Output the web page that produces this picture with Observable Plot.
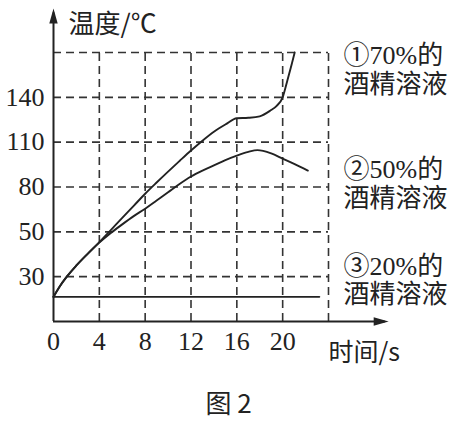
<!DOCTYPE html>
<html><head><meta charset="utf-8">
<script src="https://cdn.jsdelivr.net/npm/d3@7"></script>
<script src="https://cdn.jsdelivr.net/npm/@observablehq/plot@0.6"></script>
<style>body{margin:0;background:#fff}</style>
</head><body><div id="chart"></div>
<script>
// y axis is drawn with evenly spaced levels (piecewise scale)
const tempLevels = [10, 30, 50, 80, 110, 140, 170];
const yTickLabels = [30, 50, 80, 110, 140];
const xTickLabels = [0, 4, 8, 12, 16, 20];
const xGrid = [4, 8, 12, 16, 20, 24];

// ① 70% alcohol solution
const time70 = [0, 0.5, 1.16, 2, 3, 4, 5, 6, 7, 8, 9, 10, 11, 12, 13, 14, 15, 16, 17, 18, 18.9, 19.5, 20, 20.4, 20.8, 21.05];
const temp70 = [21, 25.3, 30, 35, 40.3, 45.4, 51.2, 59.3, 67.4, 75.5, 83, 90.3, 97.4, 104.4, 111, 117, 121.8, 126, 126.3, 127.3, 131, 134.5, 140, 151, 162.4, 170];
// ② 50% alcohol solution
const time50 = [0, 0.5, 1.16, 2, 3, 4, 5, 6, 7, 8, 9, 10, 11, 12, 13, 14, 15, 16, 17, 17.8, 19, 20, 21, 22.2];
const temp50 = [21, 25.3, 30, 35, 40.3, 45.2, 49.5, 55, 60.5, 65.5, 71, 76.5, 82, 87, 91, 94.5, 98, 101, 103.5, 104.7, 102.5, 99, 95.5, 91];
// ③ 20% alcohol solution
const time20 = [0, 23.2];
const temp20 = [21, 21];

const labels = ["①70%的\n酒精溶液", "②50%的\n酒精溶液", "③20%的\n酒精溶液"];
const yTitle = "温度/℃";
const xTitle = "时间/s";
const figTitle = "图 2";

const W = 454, H = 421;
const mL = 53, mR = 126, mT = 52, mB = 100;
// temperature -> evenly spaced level position (piecewise linear, extrapolates past the ends)
const level = d3.scaleLinear().domain(tempLevels).range(d3.range(tempLevels.length));
const yMin = tempLevels[0];
const yMax = tempLevels[tempLevels.length - 1];
const axisTipY = 199.4, axisTipX = 29.25;

const toRows = (ts, vs) => ts.map((t, i) => ({t, v: vs[i]}));
const s70 = toRows(time70, temp70), s50 = toRows(time50, temp50), s20 = toRows(time20, temp20);

const ink = "#222";
const dash = {stroke: "#333", strokeWidth: 1.6, strokeDasharray: "8,5"};
const arrowHead = {draw(ctx) { ctx.moveTo(0, 0); ctx.lineTo(-4.2, 15); ctx.lineTo(4.2, 15); ctx.closePath(); }};
const font = '"Liberation Serif","Noto Sans CJK SC",serif';
const cjk = '"Noto Sans CJK SC","Liberation Serif",sans-serif';

const plot = Plot.plot({
  width: W, height: H,
  marginLeft: mL, marginRight: mR, marginTop: mT, marginBottom: mB,
  x: {domain: [0, 24], axis: null},
  y: {transform: level, domain: [0, tempLevels.length - 1], axis: null},
  style: {fontFamily: font, fontSize: "26px", background: "#fff", color: ink},
  marks: [
    Plot.ruleY(tempLevels.slice(1), {x1: 0, x2: 24, ...dash}),
    Plot.ruleX(xGrid, {y1: yMin, y2: yMax, ...dash}),
    Plot.ruleX([0], {y1: yMin, y2: axisTipY - 3, stroke: ink, strokeWidth: 2}),
    Plot.ruleY([yMin], {x1: 0, x2: axisTipX - 0.3, stroke: ink, strokeWidth: 2}),
    Plot.dot([{t: 0, v: axisTipY, r: 0}], {x: "t", y: "v", symbol: arrowHead, fill: ink, stroke: null}),
    Plot.dot([{t: axisTipX, v: yMin, r: 90}], {x: "t", y: "v", symbol: arrowHead, rotate: "r", fill: ink, stroke: null}),
    Plot.line(s20, {x: "t", y: "v", stroke: ink, strokeWidth: 1.9}),
    Plot.line(s50, {x: "t", y: "v", stroke: ink, strokeWidth: 1.9, curve: "monotone-x"}),
    Plot.line(s70, {x: "t", y: "v", stroke: ink, strokeWidth: 1.9, curve: "monotone-x"}),
    Plot.text(yTickLabels, {x: 0, y: d => d, text: d => String(d), textAnchor: "end", dx: -9, fontSize: 26, fill: ink, fontFamily: font}),
    Plot.text(xTickLabels, {x: d => d, y: yMin, text: d => String(d), dy: 20, lineAnchor: "middle", fontSize: 26, fill: ink, fontFamily: font}),
    Plot.text([yTitle], {frameAnchor: "top-left", text: d => d, dx: 15, dy: -28, textAnchor: "start", lineAnchor: "middle", fontSize: 26, fill: ink, fontFamily: cjk}),
    Plot.text([xTitle], {frameAnchor: "top-left", text: d => d, dx: 275, dy: 300, textAnchor: "start", lineAnchor: "middle", fontSize: 25, fill: ink, fontFamily: cjk}),
    Plot.text([figTitle], {frameAnchor: "top-left", text: d => d, dx: 175, dy: 352, textAnchor: "middle", lineAnchor: "middle", fontSize: 26, fill: ink, fontFamily: cjk}),
    Plot.text([labels[0]], {frameAnchor: "top-left", text: d => d, dx: 290, dy: 17, textAnchor: "start", lineAnchor: "middle", lineHeight: 1.08, fontSize: 26, fill: ink, fontFamily: font}),
    Plot.text([labels[1]], {frameAnchor: "top-left", text: d => d, dx: 290, dy: 131, textAnchor: "start", lineAnchor: "middle", lineHeight: 1.08, fontSize: 26, fill: ink, fontFamily: font}),
    Plot.text([labels[2]], {frameAnchor: "top-left", text: d => d, dx: 290, dy: 227.5, textAnchor: "start", lineAnchor: "middle", lineHeight: 1.08, fontSize: 26, fill: ink, fontFamily: font})
  ]
});
document.getElementById("chart").appendChild(plot);
</script>
</body></html>
